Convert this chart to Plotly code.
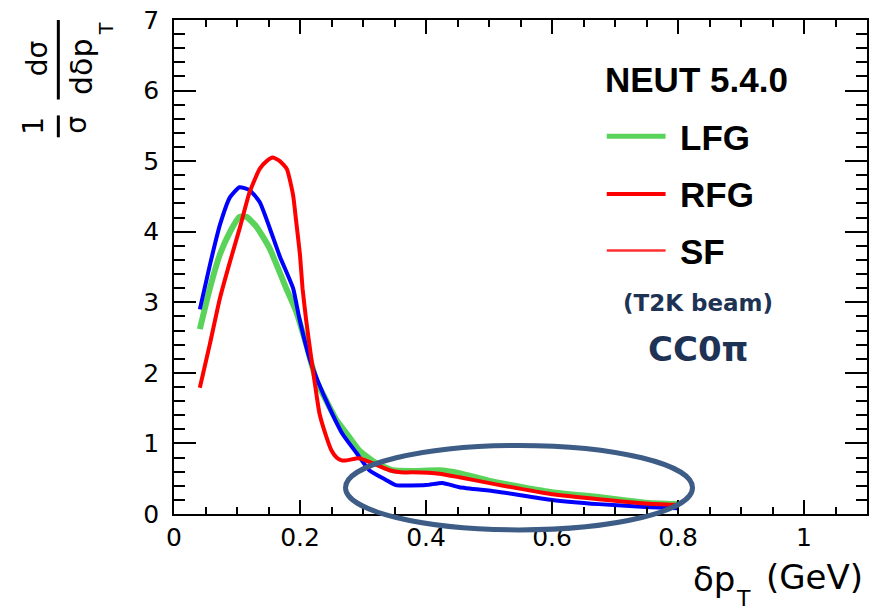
import plotly.graph_objects as go

# ---------------- data ----------------
lfg_x = [0.041, 0.057, 0.073, 0.089, 0.104, 0.115, 0.131, 0.152, 0.178, 0.194, 0.21, 0.226,
         0.242, 0.258, 0.274, 0.294, 0.321, 0.347, 0.378, 0.421, 0.453, 0.511, 0.6, 0.674, 0.748, 0.8]
lfg_y = [2.62, 3.2, 3.68, 4.0, 4.21, 4.21, 4.07, 3.76, 3.2, 2.87, 2.4, 1.89,
         1.6, 1.33, 1.14, 0.90, 0.72, 0.62, 0.61, 0.62, 0.58, 0.45, 0.31, 0.24, 0.16, 0.14]

rfg_x = [0.041, 0.057, 0.073, 0.089, 0.104, 0.12, 0.136, 0.147, 0.157, 0.168, 0.179, 0.189,
         0.194, 0.2, 0.204, 0.21, 0.218, 0.226, 0.231, 0.242, 0.25, 0.258, 0.266, 0.274,
         0.294, 0.315, 0.342, 0.36, 0.378, 0.421, 0.453, 0.511, 0.6, 0.674, 0.748, 0.8]
rfg_y = [1.79, 2.41, 3.06, 3.58, 4.04, 4.56, 4.89, 5.0, 5.05, 5.0, 4.89, 4.52,
         4.14, 3.67, 3.2, 2.73, 2.2, 1.7, 1.42, 1.09, 0.9, 0.8, 0.76, 0.76,
         0.79, 0.72, 0.62, 0.59, 0.59, 0.57, 0.52, 0.42, 0.28, 0.21, 0.15, 0.13]

sf_x = [0.041, 0.057, 0.073, 0.089, 0.104, 0.12, 0.136, 0.152, 0.168, 0.189, 0.199, 0.215,
        0.228, 0.247, 0.267, 0.29, 0.31, 0.337, 0.352, 0.40, 0.426, 0.453, 0.511, 0.6,
        0.674, 0.748, 0.8]
sf_y = [2.9, 3.53, 4.1, 4.49, 4.63, 4.59, 4.42, 4.05, 3.65, 3.2, 2.77, 2.21,
        1.89, 1.5, 1.14, 0.86, 0.62, 0.48, 0.41, 0.41, 0.44, 0.38, 0.32, 0.20,
        0.14, 0.10, 0.08]

x_ticks = [0, 0.2, 0.4, 0.6, 0.8, 1.0]
x_ticktext = ["0", "0.2", "0.4", "0.6", "0.8", "1"]
y_ticks = [0, 1, 2, 3, 4, 5, 6, 7]

legend_title = "NEUT 5.4.0"
legend_names = ["LFG", "RFG", "SF"]
note1 = "(T2K beam)"
note2 = "CC0π"

GREEN = "#5ad35a"
RED = "#ff0000"
BLUE = "#0000ff"
NAVY = "#1e3354"
ELLIPSE = "#3d5c86"

# ---------------- geometry helpers ----------------
W, H = 875, 612
ML, MR, MT, MB = 174, 6, 17, 98
PW, PH = W - ML - MR, H - MT - MB


def px(xp):
    return (xp - ML) / PW


def py(yp):
    return (H - MB - yp) / PH


fig = go.Figure()
fig.add_trace(go.Scatter(x=lfg_x, y=lfg_y, mode="lines",
                         line=dict(color=GREEN, width=6, shape="spline", smoothing=0.5),
                         showlegend=False, name="LFG"))
fig.add_trace(go.Scatter(x=sf_x, y=sf_y, mode="lines",
                         line=dict(color=BLUE, width=4, shape="spline", smoothing=0.5),
                         showlegend=False, name="SF"))
fig.add_trace(go.Scatter(x=rfg_x, y=rfg_y, mode="lines",
                         line=dict(color=RED, width=4, shape="spline", smoothing=0.5),
                         showlegend=False, name="RFG"))

tickfont = dict(family="DejaVu Sans", size=25, color="black")

fig.update_xaxes(range=[0, 1.1], tickvals=x_ticks, ticktext=x_ticktext,
                 ticks="inside", ticklen=14, tickwidth=1.5, tickcolor="black",
                 minor=dict(dtick=0.05, ticks="inside", ticklen=7, tickwidth=1.5, tickcolor="black"),
                 showline=True, linecolor="black", linewidth=1.5, mirror="ticks",
                 showgrid=False, zeroline=False, tickfont=tickfont)
fig.update_yaxes(range=[0, 7], tickvals=y_ticks,
                 ticks="inside", ticklen=22, tickwidth=1.5, tickcolor="black",
                 minor=dict(dtick=0.2, ticks="inside", ticklen=11, tickwidth=1.5, tickcolor="black"),
                 showline=True, linecolor="black", linewidth=1.5, mirror="ticks",
                 showgrid=False, zeroline=False, tickfont=tickfont, ticklabelstandoff=8)

shapes = []
annos = []

# ---- y axis title: (1/σ)(dσ/dδp_T), rotated ----
yfont = dict(family="DejaVu Sans", size=28, color="black")
annos.append(dict(text="1", x=px(33), y=py(123), textangle=-90, font=yfont))
annos.append(dict(text="σ", x=px(76), y=py(122), textangle=-90, font=yfont))
annos.append(dict(text="dσ", x=px(37), y=py(55), textangle=-90, font=yfont))
annos.append(dict(text="dδp", x=px(81), y=py(64), textangle=-90,
                  font=dict(family="DejaVu Sans", size=30, color="black")))
annos.append(dict(text="T", x=px(106), y=py(26), textangle=-90,
                  font=dict(family="DejaVu Sans", size=19, color="black")))
shapes.append(dict(type="line", xref="paper", yref="paper", x0=px(58), x1=px(58),
                   y0=py(113), y1=py(135), line=dict(color="black", width=3)))
shapes.append(dict(type="line", xref="paper", yref="paper", x0=px(58), x1=px(58),
                   y0=py(17), y1=py(97), line=dict(color="black", width=3)))

# ---- x axis title: δp_T (GeV) ----
xtfont = dict(family="DejaVu Sans", size=34, color="black")
annos.append(dict(text="δp", x=px(739), y=py(579), xanchor="right", font=xtfont))
annos.append(dict(text="T", x=px(745), y=py(599),
                  font=dict(family="DejaVu Sans", size=22, color="black")))
annos.append(dict(text="(GeV)", x=px(867), y=py(577), xanchor="right", font=xtfont))

# ---- legend (drawn manually) ----
lfont = dict(family="Liberation Sans", size=35, color="black")
annos.append(dict(text="<b>" + legend_title + "</b>", x=px(604), y=py(77), xanchor="left", font=lfont))
leg_rows = [(134, GREEN, 5), (192, RED, 4), (249, "#ff3030", 2.5)]
for name, (yy, col, lw) in zip(legend_names, leg_rows):
    shapes.append(dict(type="line", xref="paper", yref="paper", x0=px(608), x1=px(667),
                       y0=py(yy), y1=py(yy), line=dict(color=col, width=lw)))
    annos.append(dict(text="<b>" + name + "</b>", x=px(679), y=py(yy + 1), xanchor="left", font=lfont))

annos.append(dict(text="<b>" + note1 + "</b>", x=px(700), y=py(302),
                  font=dict(family="DejaVu Sans", size=23, color=NAVY)))
annos.append(dict(text="<b>" + note2 + "</b>", x=px(700), y=py(348),
                  font=dict(family="DejaVu Sans", size=34, color=NAVY)))

# ---- highlight ellipse ----
shapes.append(dict(type="circle", xref="paper", yref="paper", x0=px(346), x1=px(694),
                   y0=py(530), y1=py(445), line=dict(color=ELLIPSE, width=5), layer="above"))

for a in annos:
    a.setdefault("xref", "paper")
    a.setdefault("yref", "paper")
    a.setdefault("showarrow", False)
    a.setdefault("xanchor", "center")
    a.setdefault("yanchor", "middle")

fig.update_layout(width=W, height=H, margin=dict(l=ML, r=MR, t=MT, b=MB),
                  paper_bgcolor="white", plot_bgcolor="white",
                  shapes=shapes, annotations=annos, showlegend=False)

fig.write_html("out.html", config={"displayModeBar": False},
               post_script="document.body.style.margin='0';document.body.style.padding='0';")
